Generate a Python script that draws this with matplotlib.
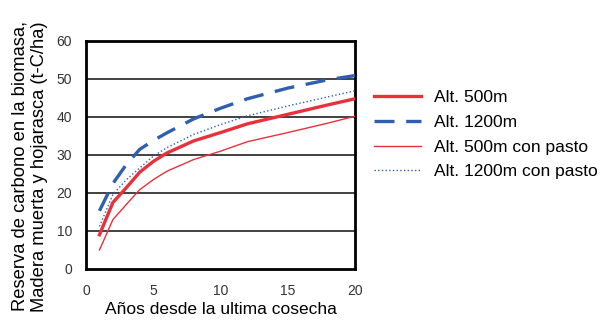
import matplotlib
matplotlib.use('Agg')
import matplotlib.pyplot as plt

plt.rcParams['font.family'] = ['Liberation Sans', 'DejaVu Sans']

# años desde la ultima cosecha
years = [1, 2, 3, 4, 5, 6, 8, 10, 12, 15, 18, 20]

alt500 = [9, 17.5, 21.4, 25.5, 28.3, 30.5, 33.7, 35.9, 38.2, 40.7, 43.2, 44.8]
alt1200 = [15.3, 22.5, 27.5, 31.5, 33.8, 35.8, 39.5, 42.3, 44.8, 47.6, 49.8, 50.9]
alt500_pasto = [5, 13, 17, 20.9, 23.5, 25.7, 28.8, 31, 33.5, 35.9, 38.4, 40.2]
alt1200_pasto = [11.2, 19.6, 23.5, 26.6, 29.7, 31.9, 35.4, 38, 40.3, 42.9, 45.3, 46.9]

labels = ['Alt. 500m', 'Alt. 1200m', 'Alt. 500m con pasto', 'Alt. 1200m con pasto']
xticks = [0, 5, 10, 15, 20]
yticks = [0, 10, 20, 30, 40, 50, 60]

red = '#e8313b'
blue = '#2f5fae'

fig = plt.figure(figsize=(6.04, 3.24), dpi=100)
ax = fig.add_axes([0.1424, 0.1698, 0.4454, 0.7037])

for y in yticks[1:-1]:
    ax.axhline(y, color='#333333', lw=1.3, zorder=1)

l1, = ax.plot(years, alt500, color=red, lw=2.4, zorder=3)
l2, = ax.plot(years, alt1200, color=blue, lw=2.4, dashes=(6, 3.5), zorder=3)
l3, = ax.plot(years, alt500_pasto, color=red, lw=1.0, zorder=3)
l4, = ax.plot(years, alt1200_pasto, color=blue, lw=1.0, ls=':', zorder=3)

ax.set_xlim(0, 20)
ax.set_ylim(0, 60)
ax.set_xticks(xticks)
ax.set_yticks(yticks)
ax.tick_params(length=0, labelsize=10, colors='#333333')
ax.tick_params(axis='x', pad=11)
ax.tick_params(axis='y', pad=10)
for s in ax.spines.values():
    s.set_linewidth(2)
    s.set_color('black')

ax.set_xlabel('Años desde la ultima cosecha', fontsize=12.5, labelpad=3)
ax.set_ylabel('Reserva de carbono en la biomasa,\nMadera muerta y hojarasca (t-C/ha)',
              fontsize=13.2, linespacing=1.2)
ax.yaxis.set_label_coords(-0.14, 0.45)

fig.legend([l1, l2, l3, l4], labels, loc='upper left', bbox_to_anchor=(0.593, 0.77),
           frameon=False, fontsize=12.5, handlelength=2.7, handletextpad=0.75,
           labelspacing=0.55)

fig.savefig('out.png', dpi=100)
